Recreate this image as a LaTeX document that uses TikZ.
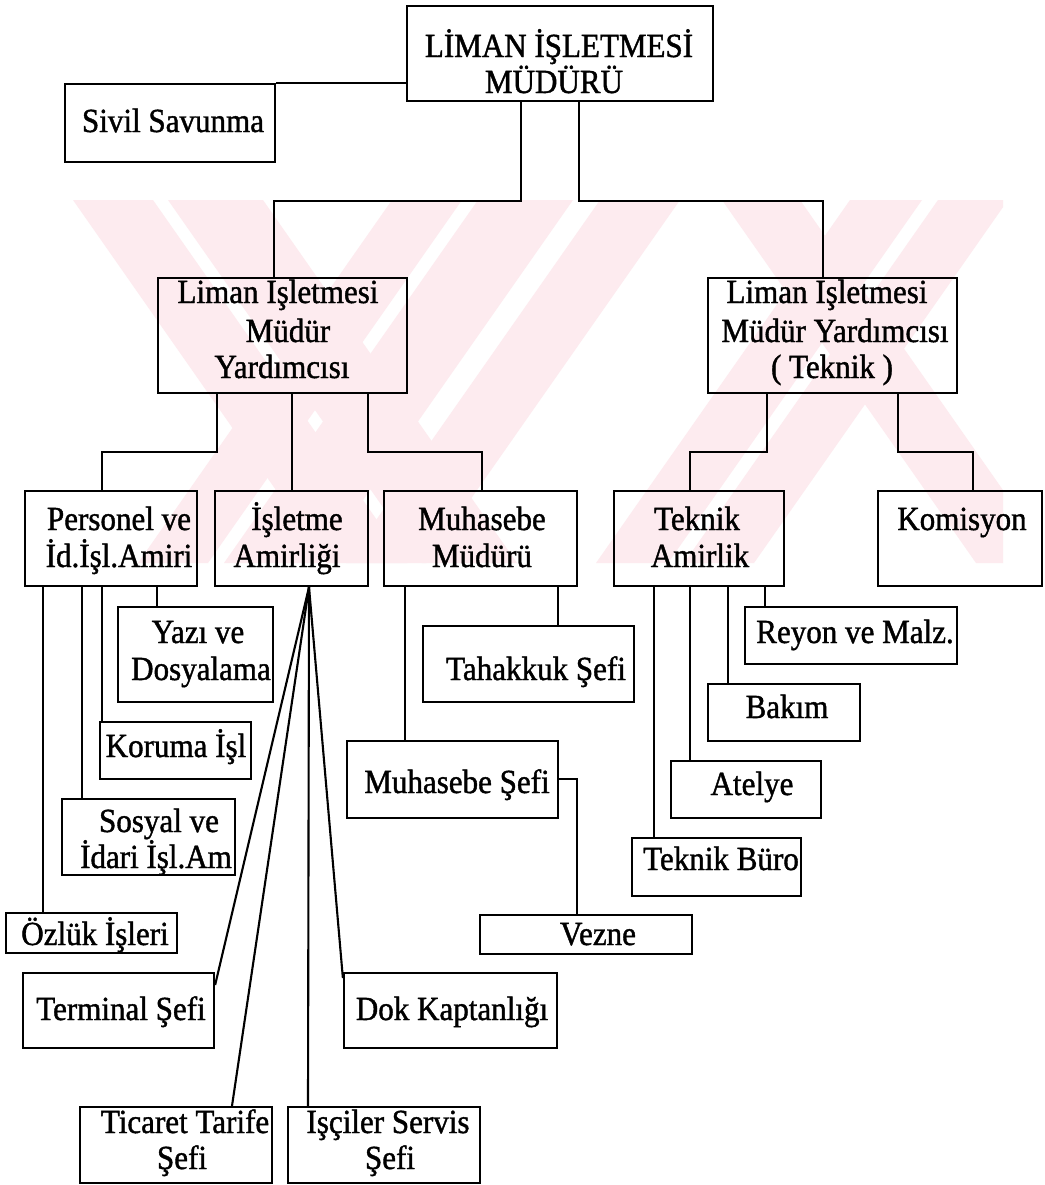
\documentclass[tikz,border=0pt]{standalone}
\usepackage{fontspec}
\setmainfont{Liberation Serif}[FakeBold=1.2,FakeStretch=0.92]
\usetikzlibrary{fit}
\definecolor{wm}{RGB}{253,235,239}
\newcommand\wmback[2]{\fill[wm] (#1,200) -- ({#1+#2},200) -- ({#1+#2+254},563) -- ({#1+254},563) -- cycle;}
\newcommand\wmfwd[2]{\fill[wm] (#1,200) -- ({#1+#2},200) -- ({#1+#2-254},563) -- ({#1-254},563) -- cycle;}
\begin{document}
\begin{tikzpicture}[x=0.025cm,y=-0.025cm,
  box/.style={draw, line width=1.6pt, inner sep=0pt},
  ln/.style={line width=1.5pt},
  t/.style={anchor=base, inner sep=0pt, font=\fontsize{24}{28}\selectfont}]
\fill[white] (0,0) rectangle (1045,1185);
\useasboundingbox (0,0) rectangle (1045,1185);
% watermark (approximate)
\begin{scope}
  \clip (70,200) rectangle (1003,563);
  \wmback{73}{80}
  \wmback{168}{95}
  \wmback{722}{78}
  \wmfwd{392}{70}
  \wmfwd{478}{95}
  \wmfwd{600}{80}
  \wmfwd{850}{72}
  \wmfwd{938}{70}
\end{scope}
% boxes
\node[box, fit={(407,6) (713,101)}] (top) {};
\node[box, fit={(65,84) (275,162)}] (sivil) {};
\node[box, fit={(158,278) (407,393)}] (vpL) {};
\node[box, fit={(708,278) (957,393)}] (vpR) {};
\node[box, fit={(25,491) (197,586)}] (pers) {};
\node[box, fit={(215,491) (368,586)}] (isl) {};
\node[box, fit={(384,491) (577,586)}] (muh) {};
\node[box, fit={(614,491) (784,586)}] (tek) {};
\node[box, fit={(878,491) (1042,586)}] (kom) {};
\node[box, fit={(118,607) (273,702)}] (yazi) {};
\node[box, fit={(100,722) (251,779)}] (koruma) {};
\node[box, fit={(62,799) (235,875)}] (sosyal) {};
\node[box, fit={(6,913) (177,953)}] (ozluk) {};
\node[box, fit={(23,973) (214,1048)}] (term) {};
\node[box, fit={(344,973) (557,1048)}] (dok) {};
\node[box, fit={(80,1107) (272,1183)}] (tic) {};
\node[box, fit={(288,1107) (480,1183)}] (isci) {};
\node[box, fit={(423,626) (634,702)}] (tah) {};
\node[box, fit={(347,741) (558,818)}] (muhsef) {};
\node[box, fit={(480,915) (692,954)}] (vezne) {};
\node[box, fit={(745,607) (957,664)}] (reyon) {};
\node[box, fit={(708,684) (860,741)}] (bakim) {};
\node[box, fit={(671,761) (821,818)}] (atel) {};
\node[box, fit={(632,838) (801,896)}] (buro) {};
% texts
\node[t] (top1) at (559,57) {LİMAN İŞLETMESİ};
\node[t] (top2) at (554,93) {MÜDÜRÜ};
\node[t] (sivil1) at (173,132) {Sivil Savunma};
\node[t] (vpL1) at (278,303) {Liman Işletmesi};
\node[t] (vpL2) at (288,342) {Müdür};
\node[t] (vpL3) at (282,378) {Yardımcısı};
\node[t] (vpR1) at (827,303) {Liman Işletmesi};
\node[t] (vpR2) at (835,342) {Müdür Yardımcısı};
\node[t] (vpR3) at (832,378) {( Teknik )};
\node[t] (pers1) at (119,530) {Personel ve};
\node[t] (pers2) at (119,567) {İd.İşl.Amiri};
\node[t] (isl1) at (297,530) {İşletme};
\node[t] (isl2) at (287,567) {Amirliği};
\node[t] (muh1) at (482,530) {Muhasebe};
\node[t] (muh2) at (482,567) {Müdürü};
\node[t] (tek1) at (697,530) {Teknik};
\node[t] (tek2) at (700,567) {Amirlik};
\node[t] (kom1) at (962,530) {Komisyon};
\node[t] (yazi1) at (198,643) {Yazı ve};
\node[t] (yazi2) at (201,680) {Dosyalama};
\node[t] (koruma1) at (176,757) {Koruma İşl};
\node[t] (sosyal1) at (159,832) {Sosyal ve};
\node[t] (sosyal2) at (156,868) {İdari İşl.Am};
\node[t] (tah1) at (536,680) {Tahakkuk Şefi};
\node[t] (muhsef1) at (457,793) {Muhasebe Şefi};
\node[t] (vezne1) at (598,945) {Vezne};
\node[t] (reyon1) at (855,643) {Reyon ve Malz.};
\node[t] (bakim1) at (787,718) {Bakım};
\node[t] (atel1) at (752,795) {Atelye};
\node[t] (buro1) at (721,870) {Teknik Büro};
\node[t] (ozluk1) at (95,945) {Özlük İşleri};
\node[t] (term1) at (121,1020) {Terminal Şefi};
\node[t] (dok1) at (452,1020) {Dok Kaptanlığı};
\node[t] (tic1) at (185,1133) {Ticaret Tarife};
\node[t] (tic2) at (182,1169) {Şefi};
\node[t] (isci1) at (388,1133) {Işçiler Servis};
\node[t] (isci2) at (390,1169) {Şefi};
% connectors
\draw[ln] (sivil.north east) -- (sivil.north east -| top.west);
\draw[ln] (top.south -| 521,0) |- (274,201) -- (vpL.north -| 274,0);
\draw[ln] (top.south -| 579,0) |- (823,201) -- (vpR.north -| 823,0);
\draw[ln] (vpL.south -| 217,0) |- (102,452) -- (pers.north -| 102,0);
\draw[ln] (vpL.south -| 292,0) -- (isl.north -| 292,0);
\draw[ln] (vpL.south -| 368,0) |- (482,452) -- (muh.north -| 482,0);
\draw[ln] (vpR.south -| 767,0) |- (690,452) -- (tek.north -| 690,0);
\draw[ln] (vpR.south -| 898,0) |- (973,452) -- (kom.north -| 973,0);
\draw[ln] (pers.south -| 43,0) -- (ozluk.north -| 43,0);
\draw[ln] (pers.south -| 82,0) -- (sosyal.north -| 82,0);
\draw[ln] (pers.south -| 102,0) -- (koruma.north -| 102,0);
\draw[ln] (pers.south -| 157,0) -- (yazi.north -| 157,0);
\draw[ln] (isl.south -| 309,0) -- (term.east |- 0,985);
\draw[ln] (isl.south -| 309,0) -- (tic.north -| 232,0);
\draw[ln] (isl.south -| 309,0) -- (isci.north -| 308,0);
\draw[ln] (isl.south -| 309,0) -- (dok.west |- 0,978);
\draw[ln] (muh.south -| 405,0) -- (muhsef.north -| 405,0);
\draw[ln] (muh.south -| 558,0) -- (tah.north -| 558,0);
\draw[ln] (muhsef.east |- 0,779) -| (vezne.north -| 577,0);
\draw[ln] (tek.south -| 654,0) -- (buro.north -| 654,0);
\draw[ln] (tek.south -| 690,0) -- (atel.north -| 690,0);
\draw[ln] (tek.south -| 728,0) -- (bakim.north -| 728,0);
\draw[ln] (tek.south -| 765,0) -- (reyon.north -| 765,0);
\end{tikzpicture}
\end{document}
